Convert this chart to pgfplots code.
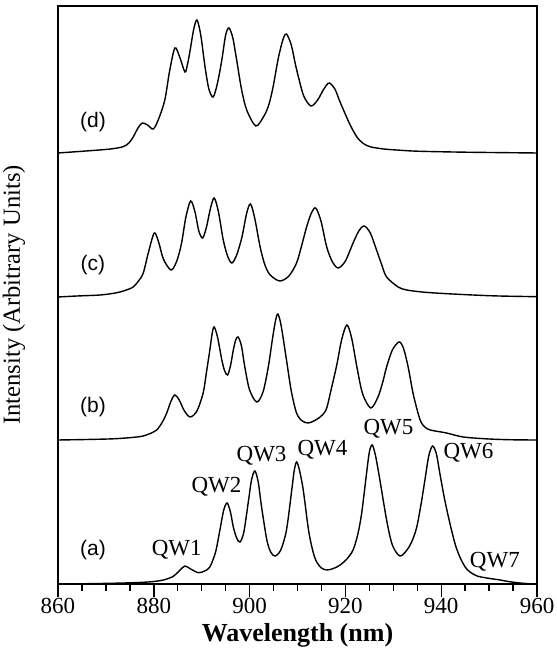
\documentclass[border=0pt]{standalone}
\usepackage{fontspec}
\setmainfont{Liberation Serif}
\newfontfamily\helv{Liberation Sans}
\usepackage{pgfplots}
\pgfplotsset{compat=1.18}
\usepackage{pgfplotstable}
\usetikzlibrary{calc}

\pgfplotstableread{
x y
860 0
866 0.3
872 0.8
877 1.5
880 2.5
882 4
884 7.5
885.5 14
886.5 18
887.7 15
889.3 11.3
890.6 13
891.7 17
892.9 32
893.8 54
894.6 74
895.3 81
896.0 72
896.6 57
897.3 46
898.0 42
898.8 52
899.7 81
900.4 104
901.1 113
901.8 102
902.5 77
903.6 44
904.4 32
905.3 28
906.5 34
907.7 54
908.8 94
909.3 113
909.8 122
910.4 114
911.2 94
912.3 54
913.2 33
914.0 22
915.0 16
916.1 14
917.5 15.5
918.9 19
920.3 25
921.6 34
922.6 50
923.4 71
924.4 110
925.0 132
925.6 139
926.3 128
927.2 104
928.6 64
929.8 39
931.4 28
933.0 35
934.0 44
934.9 57
935.8 80
936.6 104
937.4 128
938.2 138
939.0 130
939.7 111
940.7 85
941.8 61
942.9 40
943.9 27
945.0 17
946.0 12
947.5 8
949.5 6
952.3 4
954 2.5
955.8 1.3
958 0.4
960 0
}\dataA

\pgfplotstableread{
x y
860 0
866 0.5
872 1.3
877 3.3
879 6
880.6 10
881.8 18
882.7 27
883.6 39
884.4 45
885.3 40
886.4 29
887.6 23
889.0 29
890.3 47
891.0 68
891.7 90
892.2 107
892.6 113
893.3 103
894.2 80
894.8 69
895.4 65
896.0 74
896.6 90
897.1 100
897.6 103
898.3 94
899.0 73
900.0 50
901.5 38
902.8 48
903.9 73
904.8 102
905.4 119
905.9 126
906.6 114
907.7 80
908.7 49
909.8 27
911.0 19
912.3 17
913.8 20
915.2 25
916.1 32
917.0 50
918.2 75
919.2 100
920.3 115
921.3 102
922.4 73
923.6 46
925.3 32
926.8 43
927.8 58
928.6 73
929.8 90
931.2 98
932.1 92
933.1 73
934.2 45
935.6 20
936.6 13
937.7 10
941.1 7
944.6 3
950 1
955 0.2
960 0
}\dataB

\pgfplotstableread{
x y
860 0
864 1
868.8 2
872 4
874 6.5
875.7 10
876.8 16
877.8 24
878.9 45
880.1 64
881.0 55
882.0 38
883.6 27
884.8 36
885.8 54
886.7 80
887.7 96
888.6 85
889.4 66
890.2 59
891.0 70
891.8 88
892.6 99
893.5 85
894.5 57
895.4 41
896.3 34
897.3 42
898.4 60
899.4 84
900.2 93
901.1 78
902.2 50
903.2 32
904.3 22
906.3 16
908.2 21
909.8 34
910.9 52
911.9 70
912.9 84
913.8 89
914.9 76
916.1 50
917.3 35
918.5 29
920.0 36
921.6 54
922.8 66
923.9 71
925.2 64
926.5 47
927.6 32
928.6 20
931.0 10
932.8 7
936 5
939.7 3.7
946.6 2
952 1
960 0.3
}\dataC

\pgfplotstableread{
x y
860 0
866.7 2.3
871 4
873.6 6.3
874.8 10
875.7 16
876.7 25
877.6 30
878.7 28
879.9 24
881.0 34
882.3 53
883.3 82
884.4 105
885.4 96
886.5 81
887.0 88
887.6 103
888.3 123
889.0 133
889.8 118
890.7 86
891.5 64
892.4 56
893.3 70
894.2 93
895.0 118
895.7 125
896.5 115
897.3 93
898.3 64
899.4 43
901.3 27
903.0 37
904.0 48
904.9 66
906.0 95
907.0 114
907.7 119
908.7 108
909.5 90
910.2 76
911.3 57
912.8 47
914.2 53
915.5 64
916.6 70
917.8 64
918.8 52
919.6 43
921.0 28
922.4 16
923.6 10
925.1 6.3
928 4
930.7 3
935 1.8
945 0.8
960 0
}\dataD

\begin{document}
\begin{tikzpicture}
\begin{axis}[
  name=ax,
  scale only axis,
  width=239.5pt, height=289pt,
  xmin=860, xmax=960, ymin=0, ymax=578,
  xtick={860,880,...,960},
  minor xtick={865,870,...,955},
  ytick=\empty,
  tick align=outside,
  xtick pos=bottom,
  major tick length=6.5pt,
  minor tick length=3.5pt,
  every tick/.style={black, line width=0.7pt},
  axis line style={line width=0.9pt},
  /pgf/number format/assume math mode=true,
  /pgf/number format/1000 sep={},
  tick label style={font=\fontsize{11.5}{13}\selectfont, inner sep=1pt, yshift=0.5pt},
  xlabel={\bfseries Wavelength (nm)},
  xlabel style={font=\fontsize{13}{15}\selectfont, at={(axis description cs:0.5,0)}, anchor=center, yshift=-25.5pt, inner sep=1pt},
  ylabel={Intensity (Arbitrary Units)},
  ylabel style={font=\fontsize{12.3}{14}\selectfont, at={(axis description cs:-0.092,0.5)}, anchor=center},
  clip=false,
]
\addplot[black, line width=0.7pt, smooth, tension=0.5] table[x=x, y=y] {\dataA};
\addplot[black, line width=0.7pt, smooth, tension=0.5] table[x=x, y expr=\thisrow{y}+144] {\dataB};
\addplot[black, line width=0.7pt, smooth, tension=0.5] table[x=x, y expr=\thisrow{y}+287] {\dataC};
\addplot[black, line width=0.7pt, smooth, tension=0.5] table[x=x, y expr=\thisrow{y}+431] {\dataD};

\node[font=\helv\fontsize{10.5}{12}\selectfont] at (axis cs:867.3,34) {(a)};
\node[font=\helv\fontsize{10.5}{12}\selectfont] at (axis cs:867.3,177) {(b)};
\node[font=\helv\fontsize{10.5}{12}\selectfont] at (axis cs:867.3,319) {(c)};
\node[font=\helv\fontsize{10.5}{12}\selectfont] at (axis cs:867.3,462) {(d)};

\node[font=\fontsize{11.5}{13}\selectfont] at (axis cs:884.8,34) {QW1};
\node[font=\fontsize{11.5}{13}\selectfont] at (axis cs:893.1,97) {QW2};
\node[font=\fontsize{11.5}{13}\selectfont] at (axis cs:902.5,128) {QW3};
\node[font=\fontsize{11.5}{13}\selectfont] at (axis cs:915.2,134) {QW4};
\node[font=\fontsize{11.5}{13}\selectfont] at (axis cs:929.0,155) {QW5};
\node[font=\fontsize{11.5}{13}\selectfont] at (axis cs:945.7,131) {QW6};
\node[font=\fontsize{11.5}{13}\selectfont] at (axis cs:951.2,22) {QW7};
\end{axis}
\pgfresetboundingbox
\path ($(ax.south west)+(-29pt,-36pt)$) rectangle ($(ax.north east)+(9.5pt,3pt)$);
\end{tikzpicture}
\end{document}
